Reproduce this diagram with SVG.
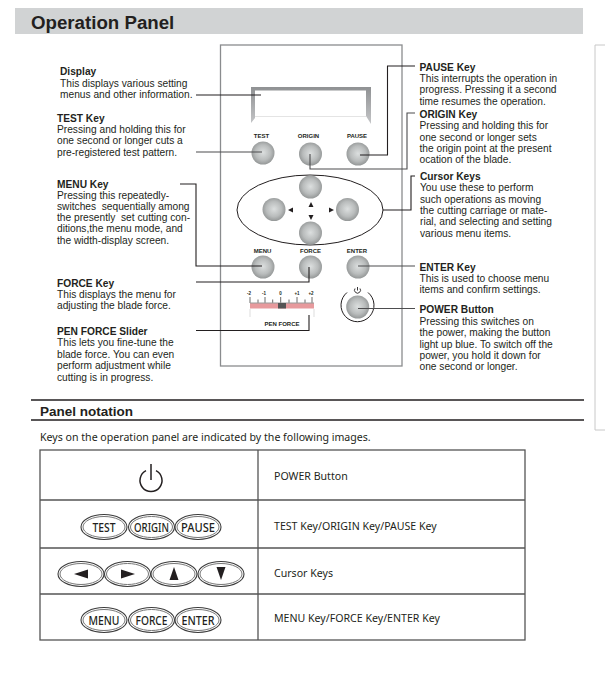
<svg xmlns="http://www.w3.org/2000/svg" width="605" height="673" viewBox="0 0 605 673">
<style>
text{font-family:"Liberation Sans",Arial,sans-serif;fill:#231f20}
.d{font-size:10.2px}
.h{font-size:10.2px;font-weight:bold}
.k{font-size:6px;font-weight:bold;text-anchor:middle}
.l{font-size:4.5px;font-weight:bold;text-anchor:middle}
.n{font-family:"Noto Sans","Open Sans",sans-serif;font-size:10.6px}
.s{font-family:"Noto Sans","Open Sans",sans-serif;font-size:13px;font-weight:500;text-anchor:middle}
.c{fill:none;stroke:#231f20;stroke-width:1.1}
.g{fill:none;stroke:#4d4d4f;stroke-width:1.1}
.b{fill:url(#key);stroke:none}
.o{fill:#fff;stroke:#3c3c3c;stroke-width:1.1}
.i{fill:none;stroke:#777;stroke-width:1}
.t{stroke:#555;stroke-width:1.3;fill:none}
.tick{stroke:#444;stroke-width:.8;fill:none}
</style>
<defs>
<radialGradient id="key" cx="0.5" cy="0.48" r="0.55">
<stop offset="0" stop-color="#dcdfdf"/>
<stop offset="0.6" stop-color="#b9bcbc"/>
<stop offset="1" stop-color="#8f9292"/>
</radialGradient>
<linearGradient id="disp" x1="0" y1="0" x2="0" y2="1">
<stop offset="0" stop-color="#8f9193"/>
<stop offset="1" stop-color="#c4c5c7"/>
</linearGradient>
</defs>
<rect width="605" height="673" fill="#fff"/>
<g id="header">
<rect x="15" y="8" width="568" height="26" fill="#d1d3d4"/>
<text x="31" y="29" font-size="18.7" font-weight="bold">Operation Panel</text>
</g>
<path id="sidebar" d="M605 45H595V430H605" fill="none" stroke="#c8c8c8" stroke-width="1"/>
<g id="panel">
<rect x="220.500" y="45" width="181.500" height="321" fill="#fff" stroke="#8a8c8e" stroke-width="1.300"/>
</g>
<g id="display">
<path d="M251 87H371V124L366 116V90.500H255V118L251 123Z" fill="url(#disp)"/>
<path d="M255 116.500H366" stroke="#e4e4e4" fill="none"/>
</g>
<g id="key-test"><circle class="b" cx="263" cy="153" r="11.500"/><text class="k" x="261.500" y="137.500">TEST</text></g>
<g id="key-origin"><circle class="b" cx="310.500" cy="154" r="11.500"/><text class="k" x="308.500" y="137.500">ORIGIN</text></g>
<g id="key-pause"><circle class="b" cx="358" cy="154" r="11.500"/><text class="k" x="357" y="137.500">PAUSE</text></g>
<g id="cursor-keys">
<ellipse cx="310" cy="210" rx="73" ry="35" fill="none" stroke="#231f20" stroke-width="1"/>
<circle class="b" cx="310.500" cy="187" r="11.500"/>
<circle class="b" cx="274" cy="209.500" r="11.500"/>
<circle class="b" cx="347.500" cy="209.500" r="11.500"/>
<circle class="b" cx="310.500" cy="233" r="11.500"/>
<path d="M311 202l-2.500 5h5zM311 220l-2.500-5h5zM288 210l5-2.500v5zM334 210l-5-2.500v5z" fill="#231f20"/>
</g>
<g id="key-menu"><circle class="b" cx="263" cy="267" r="11.500"/><text class="k" x="262.500" y="253">MENU</text></g>
<g id="key-force"><circle class="b" cx="310.500" cy="267" r="11.500"/><text class="k" x="310.500" y="253">FORCE</text></g>
<g id="key-enter"><circle class="b" cx="358" cy="267" r="11.500"/><text class="k" x="357" y="253">ENTER</text></g>
<g id="key-power">
<path d="M347 292.500A16.500 16.500 0 1 0 368 292.500" fill="none" stroke="#231f20" stroke-width="1"/>
<circle class="b" cx="357.700" cy="307" r="11.500"/>
<path d="M355 288.500a3 3 0 1 0 5 0M357.500 287v3.500" fill="none" stroke="#231f20" stroke-width=".9"/>
</g>
<g id="slider">
<path class="tick" d="M250 297V303M258 299.500V303M265 297V303M272.700 299.500V303M280.700 297V303M289 299.500V303M297 297V303M305 299.500V303M312 297V303"/>
<rect x="250" y="303" width="64" height="5.500" fill="#e79a9d"/>
<rect x="250" y="302.500" width="64" height="1" fill="#999"/>
<rect x="278" y="303" width="8" height="5.500" fill="#555"/>
<path d="M250 309V317M314 309V317" stroke="#ddd" fill="none"/>
<text class="l" x="249" y="295">-2</text>
<text class="l" x="264" y="295">-1</text>
<text class="l" x="280.500" y="295">0</text>
<text class="l" x="297" y="295">+1</text>
<text class="l" x="311" y="295">+2</text>
<text class="k" x="282" y="326">PEN FORCE</text>
</g>
<g id="connectors">
<path class="c" d="M196 95H261"/>
<path class="g" d="M196 152H262"/>
<path class="c" d="M180 184H196V266H262"/>
<path class="c" d="M196 282H309V267"/>
<path class="c" d="M196 330.500H309V315"/>
<path class="c" d="M415 66H387.500V155H360"/>
<path class="g" d="M415 113H407V169H310V154"/>
<path class="c" d="M415 176H411V210H383"/>
<path class="g" d="M358 266H415"/>
<path class="g" d="M358 308.500H415"/>
</g>
<g id="label-display">
<text class="h" x="60" y="75">Display</text>
<text class="d" x="60" y="87">This displays various setting</text>
<text class="d" x="60" y="98">menus and other information.</text>
</g>
<g id="label-test">
<text class="h" x="57" y="122">TEST Key</text>
<text class="d" x="57" y="133">Pressing and holding this for</text>
<text class="d" x="57" y="144">one second or longer cuts a</text>
<text class="d" x="57" y="156">pre-registered test pattern.</text>
</g>
<g id="label-menu">
<text class="h" x="57" y="188">MENU Key</text>
<text class="d" x="57" y="199">Pressing this repeatedly-</text>
<text class="d" x="57" y="210" xml:space="preserve">switches  sequentially among</text>
<text class="d" x="57" y="221" xml:space="preserve">the presently  set cutting con-</text>
<text class="d" x="57" y="232">ditions,the menu mode, and</text>
<text class="d" x="57" y="244">the width-display screen.</text>
</g>
<g id="label-force">
<text class="h" x="57" y="287">FORCE Key</text>
<text class="d" x="57" y="298">This displays the menu for</text>
<text class="d" x="57" y="309">adjusting the blade force.</text>
</g>
<g id="label-penforce">
<text class="h" x="57" y="335">PEN FORCE Slider</text>
<text class="d" x="57" y="346">This lets you fine-tune the</text>
<text class="d" x="57" y="358">blade force. You can even</text>
<text class="d" x="57" y="369">perform adjustment while</text>
<text class="d" x="57" y="381">cutting is in progress.</text>
</g>
<g id="label-pause">
<text class="h" x="419.500" y="71">PAUSE Key</text>
<text class="d" x="419.500" y="82">This interrupts the operation in</text>
<text class="d" x="419.500" y="93">progress. Pressing it a second</text>
<text class="d" x="419.500" y="105">time resumes the operation.</text>
</g>
<g id="label-origin">
<text class="h" x="419.500" y="118">ORIGIN Key</text>
<text class="d" x="419.500" y="129">Pressing and holding this for</text>
<text class="d" x="419.500" y="141">one second or longer sets</text>
<text class="d" x="419.500" y="152">the origin point at the present</text>
<text class="d" x="419.500" y="163">ocation of the blade.</text>
</g>
<g id="label-cursor">
<text class="h" x="420" y="180">Cursor Keys</text>
<text class="d" x="420" y="191">You use these to perform</text>
<text class="d" x="420" y="203">such operations as moving</text>
<text class="d" x="420" y="214">the cutting carriage or mate-</text>
<text class="d" x="420" y="225">rial, and selecting and setting</text>
<text class="d" x="420" y="237">various menu items.</text>
</g>
<g id="label-enter">
<text class="h" x="419.500" y="271">ENTER Key</text>
<text class="d" x="419.500" y="282">This is used to choose menu</text>
<text class="d" x="419.500" y="293">items and confirm settings.</text>
</g>
<g id="label-power">
<text class="h" x="419.500" y="313">POWER Button</text>
<text class="d" x="419.500" y="325">Pressing this switches on</text>
<text class="d" x="419.500" y="336">the power, making the button</text>
<text class="d" x="419.500" y="348">light up blue. To switch off the</text>
<text class="d" x="419.500" y="359">power, you hold it down for</text>
<text class="d" x="419.500" y="370">one second or longer.</text>
</g>
<g id="panel-notation">
<path d="M31 400H584M31 420H584" stroke="#231f20" stroke-width="1.400" fill="none"/>
<text x="40" y="415.500" font-size="13.500" font-weight="bold">Panel notation</text>
<text class="n" x="40" y="441">Keys on the operation panel are indicated by the following images.</text>
</g>
<g id="table">
<rect x="40" y="450" width="485" height="190" fill="none" stroke="#555" stroke-width="1.300"/>
<path class="t" d="M40 500H525M40 548H525M40 594H525M258 450V640"/>
<text class="n" x="274" y="480">POWER Button</text>
<text class="n" x="274" y="530">TEST Key/ORIGIN Key/PAUSE Key</text>
<text class="n" x="274" y="577">Cursor Keys</text>
<text class="n" x="274" y="622">MENU Key/FORCE Key/ENTER Key</text>
</g>
<g id="symbol-power">
<path d="M146 470.700A11 11 0 1 0 156 470.700M151 464V480" fill="none" stroke="#231f20" stroke-width="1.500"/>
</g>
<g id="symbol-test"><ellipse class="o" cx="104" cy="527" rx="23" ry="12.500"/><ellipse class="i" cx="104" cy="527" rx="21" ry="10.500"/><text class="s" x="104" y="532" textLength="23" lengthAdjust="spacingAndGlyphs">TEST</text></g>
<g id="symbol-origin"><ellipse class="o" cx="151.500" cy="527" rx="23" ry="12.500"/><ellipse class="i" cx="151.500" cy="527" rx="21" ry="10.500"/><text class="s" x="151.500" y="532" textLength="35" lengthAdjust="spacingAndGlyphs">ORIGIN</text></g>
<g id="symbol-pause"><ellipse class="o" cx="198" cy="527" rx="23" ry="12.500"/><ellipse class="i" cx="198" cy="527" rx="21" ry="10.500"/><text class="s" x="198" y="532" textLength="34" lengthAdjust="spacingAndGlyphs">PAUSE</text></g>
<g id="symbol-left"><ellipse class="o" cx="81" cy="574" rx="23" ry="12.500"/><ellipse class="i" cx="81" cy="574" rx="21" ry="10.500"/><path d="M74 574l14-4.500v9z" fill="#231f20"/></g>
<g id="symbol-right"><ellipse class="o" cx="127.500" cy="574" rx="23" ry="12.500"/><ellipse class="i" cx="127.500" cy="574" rx="21" ry="10.500"/><path d="M135 574l-14-4.500v9z" fill="#231f20"/></g>
<g id="symbol-up"><ellipse class="o" cx="174" cy="574" rx="23" ry="12.500"/><ellipse class="i" cx="174" cy="574" rx="21" ry="10.500"/><path d="M174 567l-4.500 13h9z" fill="#231f20"/></g>
<g id="symbol-down"><ellipse class="o" cx="221" cy="574" rx="23" ry="12.500"/><ellipse class="i" cx="221" cy="574" rx="21" ry="10.500"/><path d="M221 580l-4.500-13h9z" fill="#231f20"/></g>
<g id="symbol-menu"><ellipse class="o" cx="104" cy="620" rx="23" ry="12.500"/><ellipse class="i" cx="104" cy="620" rx="21" ry="10.500"/><text class="s" x="104" y="625" textLength="31" lengthAdjust="spacingAndGlyphs">MENU</text></g>
<g id="symbol-force"><ellipse class="o" cx="151.500" cy="620" rx="23" ry="12.500"/><ellipse class="i" cx="151.500" cy="620" rx="21" ry="10.500"/><text class="s" x="151.500" y="625" textLength="32" lengthAdjust="spacingAndGlyphs">FORCE</text></g>
<g id="symbol-enter"><ellipse class="o" cx="198" cy="620" rx="23" ry="12.500"/><ellipse class="i" cx="198" cy="620" rx="21" ry="10.500"/><text class="s" x="198" y="625" textLength="33" lengthAdjust="spacingAndGlyphs">ENTER</text></g>
</svg>
